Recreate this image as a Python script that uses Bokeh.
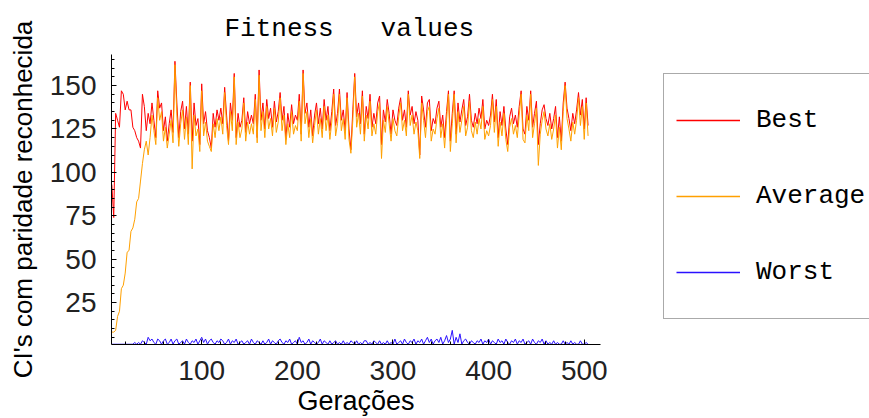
from bokeh.plotting import figure
from bokeh.layouts import row
from bokeh.models import (FixedTicker, Legend, LegendItem, ColumnDataSource,
                          Range1d)
from bokeh.embed import file_html
from bokeh.resources import INLINE

# ---------------- data (every 2nd generation) -------------
first_gen = 6
gen_step = 2

best = [
    93, 74, 134, 130, 126, 147, 145, 136, 141, 136,
    136, 126, 124, 120, 118, 114, 145, 138, 124, 134,
    128, 140, 130, 120, 147, 137, 140, 124, 132, 118,
    128, 136, 123, 164, 140, 120, 135, 141, 125, 138,
    122, 152, 118, 140, 127, 131, 116, 151, 128, 135,
    124, 120, 114, 134, 126, 136, 130, 137, 128, 149,
    133, 118, 140, 130, 157, 120, 134, 126, 130, 143,
    123, 135, 128, 133, 128, 145, 120, 159, 130, 140,
    125, 142, 131, 137, 126, 141, 129, 135, 146, 130,
    138, 119, 134, 126, 139, 128, 133, 130, 145, 122,
    159, 134, 140, 126, 136, 121, 133, 140, 128, 137,
    125, 142, 130, 138, 124, 135, 148, 127, 134, 148,
    130, 136, 124, 146, 125, 113, 136, 157, 132, 140,
    128, 147, 122, 138, 131, 145, 126, 134, 128, 140,
    144, 116, 136, 129, 142, 134, 122, 136, 130, 127,
    137, 143, 130, 136, 126, 147, 133, 138, 128, 135,
    130, 110, 144, 136, 126, 140, 142, 124, 131, 128,
    137, 141, 126, 133, 120, 135, 147, 118, 134, 147,
    122, 140, 129, 136, 142, 127, 132, 145, 130, 126,
    134, 128, 137, 131, 142, 125, 130, 127, 133, 145,
    129, 142, 120, 135, 127, 138, 125, 116, 132, 137,
    128, 133, 126, 138, 147, 125, 122, 138, 130, 147,
    126, 134, 141, 116, 128, 136, 139, 131, 127, 134,
    125, 131, 138, 120, 132, 118, 140, 152, 137, 131,
    124, 134, 128, 136, 146, 133, 142, 125, 143, 127,
]

average = [
    8, 8, 9, 17, 20, 33, 35, 42, 54, 55,
    66, 68, 73, 83, 85, 95, 105, 113, 118, 110,
    120, 133, 124, 116, 143, 130, 135, 118, 126, 114,
    122, 130, 117, 162, 133, 115, 128, 136, 119, 132,
    116, 150, 102, 133, 121, 125, 112, 147, 121, 129,
    118, 115, 112, 128, 120, 131, 124, 132, 122, 146,
    127, 116, 135, 124, 155, 116, 129, 120, 125, 140,
    118, 129, 122, 128, 122, 142, 117, 156, 124, 135,
    120, 138, 125, 131, 121, 137, 123, 129, 143, 124,
    133, 116, 128, 120, 135, 122, 127, 124, 141, 118,
    157, 128, 135, 120, 131, 117, 127, 136, 122, 131,
    120, 138, 124, 133, 119, 129, 145, 121, 128, 145,
    124, 131, 119, 143, 119, 111, 130, 155, 126, 134,
    122, 144, 118, 133, 125, 141, 121, 128, 122, 135,
    140, 108, 130, 123, 138, 128, 118, 131, 124, 121,
    132, 140, 124, 130, 121, 145, 127, 133, 122, 129,
    124, 108, 140, 130, 120, 135, 138, 118, 125, 122,
    131, 137, 120, 128, 114, 130, 145, 112, 128, 145,
    117, 135, 123, 130, 138, 121, 126, 141, 124, 120,
    129, 122, 131, 125, 138, 119, 124, 121, 127, 142,
    123, 138, 115, 129, 121, 134, 119, 112, 126, 131,
    122, 127, 120, 133, 145, 119, 117, 133, 124, 145,
    120, 128, 137, 104, 122, 130, 135, 125, 121, 128,
    119, 125, 133, 114, 126, 113, 135, 150, 131, 125,
    118, 129, 122, 130, 143, 127, 138, 119, 140, 121,
]

worst = [
    1, 1, 1, 1, 1, 1, 1, 1, 1, 1,
    1, 1, 2, 1, 2, 1, 3, 2, 1, 5,
    3, 4, 2, 1, 4, 3, 1, 3, 4, 1,
    2, 4, 1, 3, 4, 1, 2, 3, 1, 4,
    2, 1, 3, 2, 4, 1, 3, 5, 2, 4,
    1, 3, 4, 2, 1, 3, 2, 4, 3, 1,
    2, 4, 1, 3, 2, 4, 1, 2, 3, 1,
    2, 3, 1, 4, 2, 1, 3, 2, 1, 3,
    1, 2, 4, 1, 3, 2, 1, 3, 4, 2,
    1, 3, 2, 4, 1, 2, 3, 1, 5, 2,
    3, 1, 2, 4, 1, 3, 2, 1, 2, 4,
    1, 3, 2, 1, 3, 1, 2, 3, 1, 2,
    1, 3, 1, 2, 1, 3, 2, 1, 3, 1,
    2, 1, 3, 3, 1, 2, 1, 3, 2, 1,
    3, 1, 2, 1, 3, 1, 2, 1, 4, 1,
    2, 3, 1, 4, 2, 1, 3, 2, 4, 1,
    3, 2, 4, 1, 3, 5, 2, 4, 1, 3,
    4, 2, 5, 1, 3, 6, 2, 4, 9, 1,
    5, 2, 7, 1, 3, 4, 2, 1, 3, 2,
    1, 3, 2, 4, 1, 3, 2, 4, 1, 3,
    2, 1, 4, 2, 3, 1, 4, 2, 1, 3,
    2, 4, 1, 3, 2, 4, 1, 2, 3, 1,
    4, 2, 1, 3, 2, 4, 1, 3, 1, 2,
    1, 3, 1, 2, 1, 1, 3, 1, 2, 1,
    3, 1, 2, 1, 1, 3, 1, 1, 2, 1,
]

generations = list(range(first_gen, first_gen + gen_step * len(best), gen_step))

series_names = ["Best", "Average", "Worst"]
series_keys = ["best", "average", "worst"]
series_colors = ["#ff0000", "#ffa000", "#2a10ff"]

x_major = [100, 200, 300, 400, 500]
x_minor = [20, 40, 60, 80, 120, 140, 160, 180, 220, 240, 260, 280,
           320, 340, 360, 380, 420, 440, 460, 480]
y_major = [25, 50, 75, 100, 125, 150]
y_minor = [5, 10, 15, 20, 30, 35, 40, 45, 55, 60, 65, 70, 80, 85, 90, 95,
           105, 110, 115, 120, 130, 135, 140, 145, 155, 160, 165]

title_text = "Fitness \u00a0 values"
x_label = "Gerações"
y_label = "CI's com paridade reconhecida"

# ---------------- main figure ----------------
H = 418
W1 = 610
FL, FR, FT, FB = 111, 600, 54, 348   # frame edges in page pixels
p = figure(width=W1, height=H, output_backend="svg", toolbar_location=None,
           x_range=Range1d(5.66, 517.0), y_range=Range1d(0.85, 167.9),
           min_border_left=FL, min_border_right=W1 - FR,
           min_border_top=FT, min_border_bottom=H - FB)
p.outline_line_color = None
p.grid.visible = False
p.background_fill_color = "white"
p.border_fill_color = "white"

p.title.text = title_text
p.title.text_font = "Liberation Mono"
p.title.text_font_size = "26px"
p.title.text_font_style = "normal"
p.title.text_color = "black"
p.title.align = "left"
p.title.offset = 113
p.title.standoff = 22

src = ColumnDataSource(dict(g=generations, best=best, average=average, worst=worst))
for key, c in zip(series_keys, series_colors):
    p.line("g", key, source=src, line_color=c, line_width=1)

for ax in (p.xaxis[0], p.yaxis[0]):
    ax.axis_line_color = "black"
    ax.axis_line_width = 1
    ax.major_tick_in = 5
    ax.major_tick_out = 0
    ax.minor_tick_in = 3
    ax.minor_tick_out = 0
    ax.major_tick_line_color = "black"
    ax.minor_tick_line_color = "black"
    ax.major_label_text_font = "Liberation Sans"
    ax.major_label_text_font_size = "28px"
    ax.major_label_text_color = "#222222"

p.xaxis[0].ticker = FixedTicker(ticks=x_major, minor_ticks=x_minor)
p.yaxis[0].ticker = FixedTicker(ticks=y_major, minor_ticks=y_minor)
p.xaxis[0].major_label_standoff = 16
p.yaxis[0].major_label_standoff = 15

p.xaxis[0].axis_label = x_label
p.xaxis[0].axis_label_text_font = "Liberation Sans"
p.xaxis[0].axis_label_text_font_size = "27px"
p.xaxis[0].axis_label_text_font_style = "normal"
p.xaxis[0].axis_label_text_color = "black"
p.xaxis[0].axis_label_standoff = 3

p.yaxis[0].axis_label = y_label
p.yaxis[0].axis_label_text_font = "Liberation Sans"
p.yaxis[0].axis_label_text_font_size = "26px"
p.yaxis[0].axis_label_text_font_style = "normal"
p.yaxis[0].axis_label_text_color = "black"
p.yaxis[0].axis_label_standoff = 9

# ---------------- legend panel ----------------
W2 = 869 - W1
q = figure(width=W2, height=H, output_backend="svg", toolbar_location=None,
           x_range=Range1d(-2, -1), y_range=Range1d(-2, -1),
           x_axis_type=None, y_axis_type=None,
           min_border_left=0, min_border_right=0,
           min_border_top=0, min_border_bottom=0)
q.outline_line_color = None
q.grid.visible = False
q.background_fill_color = "white"
q.border_fill_color = "white"

# same series, drawn outside this panel's (empty) ranges: only their legend keys show
key_lines = [q.line("g", key, source=src, line_color=c, line_width=1.5)
             for key, c in zip(series_keys, series_colors)]
legend = Legend(items=[LegendItem(label=n, renderers=[r])
                       for n, r in zip(series_names, key_lines)],
                location=(663 - W1, 25))
legend.label_text_font = "Liberation Mono"
legend.label_text_font_size = "26px"
legend.label_text_color = "black"
legend.glyph_width = 64
legend.glyph_height = 68
legend.label_height = 68
legend.spacing = 8
legend.padding = 12
legend.margin = 0
legend.label_standoff = 16
legend.border_line_color = "#555555"
legend.border_line_width = 1
legend.background_fill_color = "white"
legend.background_fill_alpha = 1.0
q.add_layout(legend, "center")

layout = row(p, q, spacing=0)
open("out.html", "w").write(file_html(layout, INLINE))
